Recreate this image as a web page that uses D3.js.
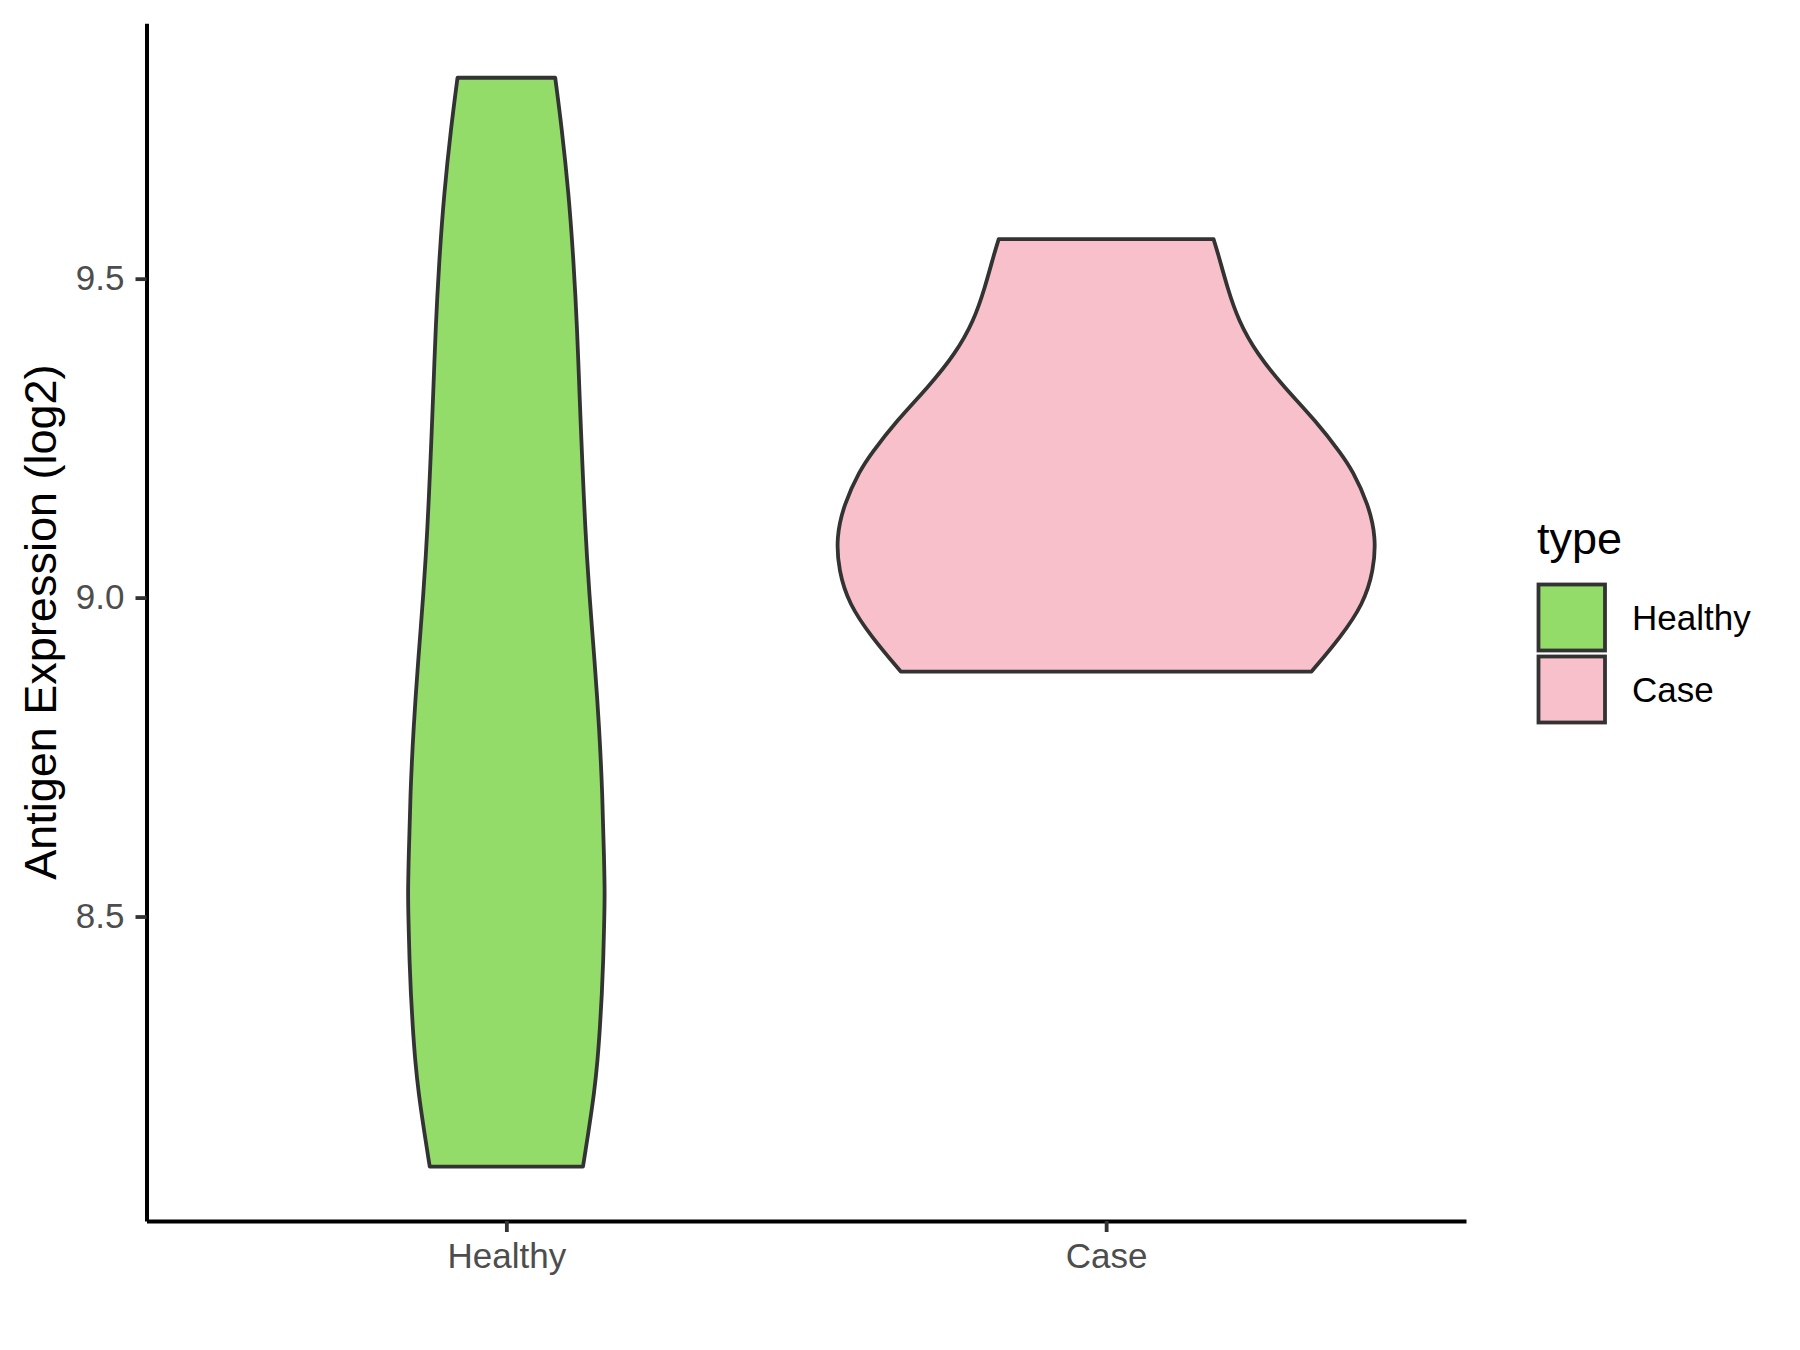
<!DOCTYPE html>
<html>
<head>
<meta charset="utf-8">
<script src="https://cdn.jsdelivr.net/npm/d3@7"></script>
<style>
  body { margin: 0; background: #ffffff; }
  svg text { font-family: "Liberation Sans", Arial, Helvetica, sans-serif; }
</style>
</head>
<body>
<svg id="chart" width="1800" height="1350"></svg>
<script>
// ---------------- data ----------------
const categories = ["Healthy", "Case"];
const fillColors = ["#93DC6A", "#F8C0CB"];

// density profile of each violin (value on y, relative density; Case peak = 1)
const healthyValues  = [9.815, 9.737, 9.633, 9.528, 9.424, 9.319, 9.215, 9.110, 9.006, 8.901, 8.797, 8.692, 8.588, 8.536, 8.483, 8.431, 8.379, 8.327, 8.274, 8.222, 8.170, 8.108];
const healthyDensity = [0.181, 0.205, 0.231, 0.249, 0.262, 0.271, 0.281, 0.292, 0.307, 0.327, 0.344, 0.356, 0.362, 0.365, 0.362, 0.359, 0.354, 0.347, 0.338, 0.325, 0.307, 0.284];

const caseValues  = [9.562, 9.539, 9.486, 9.434, 9.382, 9.330, 9.277, 9.225, 9.199, 9.147, 9.095, 9.042, 8.990, 8.938, 8.884];
const caseDensity = [0.398, 0.415, 0.449, 0.490, 0.559, 0.659, 0.777, 0.872, 0.913, 0.971, 1.000, 0.991, 0.953, 0.869, 0.761];

const yTicks = [8.5, 9.0, 9.5];
const yTitle = "Antigen Expression (log2)";
const legendTitle = "type";

// ---------------- layout ----------------
const panel = { left: 146.5, right: 1466, top: 23.3, bottom: 1221 };
const svg = d3.select("#chart");

const violins = [
  { cat: categories[0], values: healthyValues, density: healthyDensity, fill: fillColors[0] },
  { cat: categories[1], values: caseValues,    density: caseDensity,    fill: fillColors[1] }
];

const allVals = healthyValues.concat(caseValues);
const vMin = d3.min(allVals), vMax = d3.max(allVals);
const pad = 0.05 * (vMax - vMin);

const y = d3.scaleLinear().domain([vMin - pad, vMax + pad]).range([panel.bottom, panel.top]);
const x = d3.scalePoint().domain(categories).range([panel.left, panel.right]).padding(0.6);

const maxDens = d3.max(healthyDensity.concat(caseDensity));
const w = d3.scaleLinear().domain([0, maxDens]).range([0, 0.45 * x.step()]);

// ---------------- violins ----------------
violins.forEach(v => {
  const pts = v.values.map((val, i) => ({ val, d: v.density[i] }));
  const cx = x(v.cat);
  const area = d3.area()
    .y(p => y(p.val))
    .x0(p => cx - w(p.d))
    .x1(p => cx + w(p.d))
    .curve(d3.curveBasis);
  svg.append("path")
    .attr("d", area(pts))
    .attr("fill", v.fill)
    .attr("stroke", "#333333")
    .attr("stroke-width", 3.8)
    .attr("stroke-linejoin", "round");
});

// ---------------- axes ----------------
const yAxis = d3.axisLeft(y).tickValues(yTicks).tickFormat(d3.format(".1f"))
  .tickSize(11).tickSizeOuter(0).tickPadding(11);
const gy = svg.append("g").attr("transform", `translate(${panel.left},0)`).call(yAxis);

const xAxis = d3.axisBottom(x).tickSize(11).tickSizeOuter(0).tickPadding(11.5);
const gx = svg.append("g").attr("transform", `translate(0,${panel.bottom})`).call(xAxis);

[gx, gy].forEach(g => {
  g.select(".domain").attr("stroke", "#000000").attr("stroke-width", 4);
  g.selectAll(".tick line").attr("stroke", "#333333").attr("stroke-width", 3.8);
  g.selectAll(".tick text")
    .attr("fill", "#4D4D4D")
    .style("font-size", "35px")
    .style("font-family", "'Liberation Sans', Arial, sans-serif");
});

// y axis title
svg.append("text")
  .attr("transform", `translate(55.5,${(panel.top + panel.bottom) / 2}) rotate(-90)`)
  .attr("text-anchor", "middle")
  .attr("fill", "#000000")
  .style("font-size", "45px")
  .text(yTitle);

// ---------------- legend ----------------
const lg = svg.append("g");
lg.append("text")
  .attr("x", 1537).attr("y", 554)
  .attr("fill", "#000000")
  .style("font-size", "45px")
  .text(legendTitle);

categories.forEach((c, i) => {
  const top = 584.5 + i * 72;
  lg.append("rect")
    .attr("x", 1538.5).attr("y", top)
    .attr("width", 66.5).attr("height", 66)
    .attr("fill", fillColors[i])
    .attr("stroke", "#333333")
    .attr("stroke-width", 3.8);
  lg.append("text")
    .attr("x", 1632).attr("y", top + 33)
    .attr("dy", "0.36em")
    .attr("fill", "#000000")
    .style("font-size", "35px")
    .text(c);
});
</script>
</body>
</html>
